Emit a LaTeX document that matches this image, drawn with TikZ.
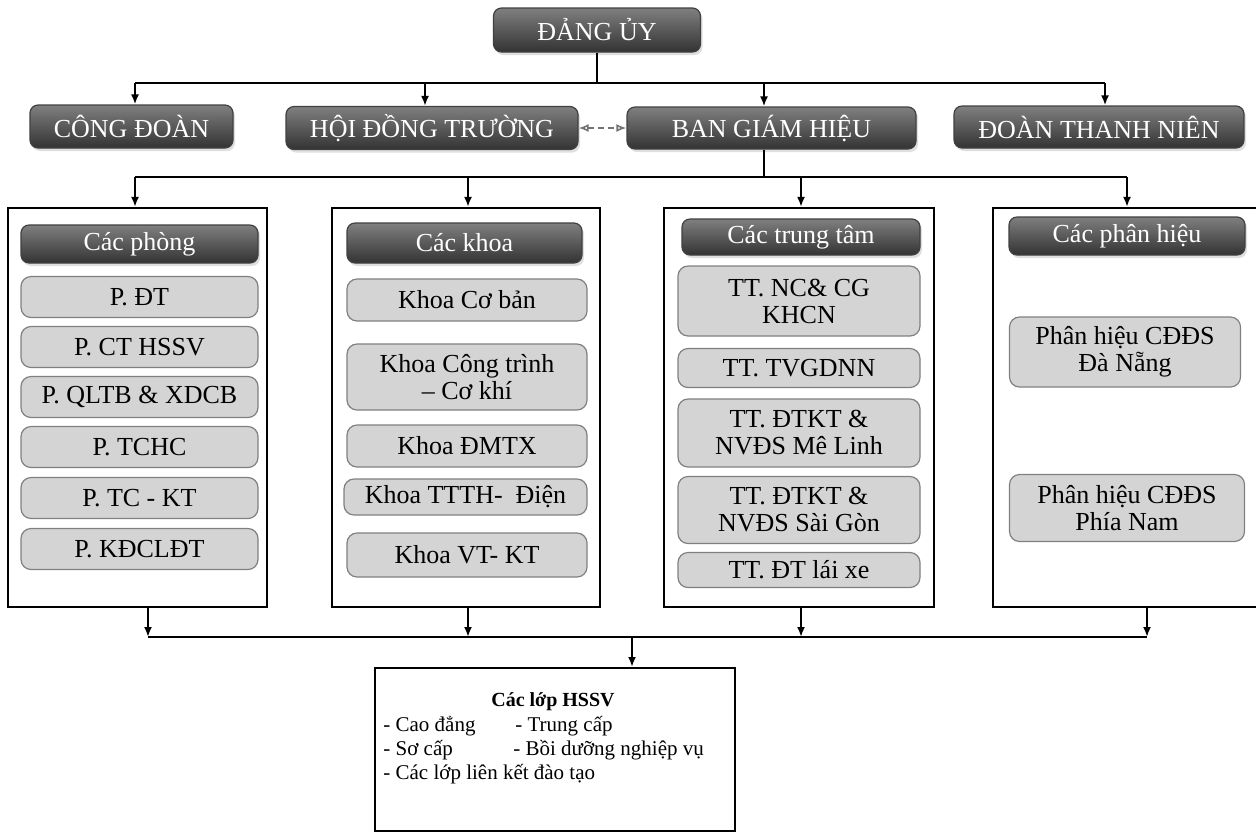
\documentclass[tikz,border=0pt]{standalone}
\usepackage{fontspec}
\setmainfont{Liberation Serif}
\usetikzlibrary{arrows.meta,shadows}
\newdimen\pxu \pxu=0.5pt
\begin{document}
\begin{tikzpicture}[x=0.5pt,y=-0.5pt,
  conn/.style={line width=1pt, draw=black},
  arr/.style={conn, -{Latex[length=5pt,width=4pt]}},
  darkbox/.style={rounded corners=4pt, top color=black!50, bottom color=black!80, draw=black!75, line width=0.6pt, text=white, font=\fontsize{13}{14}\selectfont, inner sep=0pt, drop shadow={opacity=0.25,shadow xshift=1pt,shadow yshift=-1.5pt}},
  itembox/.style={rounded corners=5pt, fill=black!17, draw=black!50, line width=0.6pt, font=\fontsize{13}{13.5}\selectfont, align=center, inner sep=0pt},
  panel/.style={draw=black, line width=1.1pt, fill=white, inner sep=0pt},
  listtext/.style={font=\fontsize{10.5}{12}\selectfont, inner sep=0pt, anchor=base west},
]
\useasboundingbox (0,0) rectangle (1256,832);

% top row
\node[darkbox, minimum width=207\pxu, minimum height=44\pxu] (dang) at (597,30) {ĐẢNG ỦY};
\node[darkbox, minimum width=203\pxu, minimum height=43\pxu] (cd) at (131.5,126.5) {CÔNG ĐOÀN};
\node[darkbox, minimum width=292\pxu, minimum height=43\pxu] (hdt) at (432,128) {HỘI ĐỒNG TRƯỜNG};
\node[darkbox, minimum width=289\pxu, minimum height=42\pxu] (bgh) at (771.5,128) {BAN GIÁM HIỆU};
\node[darkbox, minimum width=290\pxu, minimum height=42\pxu] (dtn) at (1099,127) {ĐOÀN THANH NIÊN};

\coordinate (j0) at (597,83);
\coordinate (ja) at (135,83);
\coordinate (jb) at (425,83);
\coordinate (jc) at (764,83);
\coordinate (jd) at (1105,83);
\draw[conn] (dang.south) -- (j0);
\draw[conn] (ja) -- (jd);
\draw[arr] (ja) -- (ja |- cd.north);
\draw[arr] (jb) -- (jb |- hdt.north);
\draw[arr] (jc) -- (jc |- bgh.north);
\draw[arr] (jd) -- (jd |- dtn.north);
\draw[draw=black!55, line width=0.8pt, densely dashed, {Latex[open,length=5pt,width=4pt]}-{Latex[open,length=5pt,width=4pt]}] (hdt.east) -- (bgh.west);

% panels
\node[panel, minimum width=259\pxu, minimum height=399\pxu] (p1) at (137.5,407.5) {};
\node[panel, minimum width=268\pxu, minimum height=399\pxu] (p2) at (466,407.5) {};
\node[panel, minimum width=270\pxu, minimum height=399\pxu] (p3) at (799,407.5) {};
\node[panel, minimum width=272\pxu, minimum height=399\pxu] (p4) at (1129,407.5) {};

\coordinate (k0) at (764,177);
\coordinate (ka) at (135,177);
\coordinate (kb) at (468,177);
\coordinate (kc) at (801,177);
\coordinate (kd) at (1127,177);
\draw[conn] (k0 |- bgh.south) -- (k0);
\draw[conn] (ka) -- (kd);
\draw[arr] (ka) -- (ka |- p1.north);
\draw[arr] (kb) -- (kb |- p2.north);
\draw[arr] (kc) -- (kc |- p3.north);
\draw[arr] (kd) -- (kd |- p4.north);

% panel 1
\node[darkbox, minimum width=237\pxu, minimum height=38\pxu] (t1) at (139.5,244) {Các phòng};
\node[itembox, minimum width=237\pxu, minimum height=41\pxu] (a1) at (139.5,297) {P. ĐT};
\node[itembox, minimum width=237\pxu, minimum height=41\pxu] (a2) at (139.5,347) {P. CT HSSV};
\node[itembox, minimum width=237\pxu, minimum height=41\pxu] (a3) at (139.5,397) {P. QLTB \& XDCB};
\node[itembox, minimum width=237\pxu, minimum height=41\pxu] (a4) at (139.5,447) {P. TCHC};
\node[itembox, minimum width=237\pxu, minimum height=41\pxu] (a5) at (139.5,498) {P. TC - KT};
\node[itembox, minimum width=237\pxu, minimum height=41\pxu] (a6) at (139.5,549) {P. KĐCLĐT};

% panel 2
\node[darkbox, minimum width=235\pxu, minimum height=40\pxu] (t2) at (464.5,243) {Các khoa};
\node[itembox, minimum width=240\pxu, minimum height=42\pxu] (b1) at (467,300) {Khoa Cơ bản};
\node[itembox, minimum width=240\pxu, minimum height=66\pxu] (b2) at (467,377) {Khoa Công trình\\– Cơ khí};
\node[itembox, minimum width=240\pxu, minimum height=42\pxu] (b3) at (467,446) {Khoa ĐMTX};
\node[itembox, minimum width=243\pxu, minimum height=36\pxu] (b4) at (465.5,497) {Khoa TTTH-\ \ Điện};
\node[itembox, minimum width=240\pxu, minimum height=44\pxu] (b5) at (467,555) {Khoa VT- KT};

% panel 3
\node[darkbox, minimum width=238\pxu, minimum height=36\pxu] (t3) at (801,237) {Các trung tâm};
\node[itembox, minimum width=242\pxu, minimum height=70\pxu] (c1) at (799,301) {TT. NC\& CG\\KHCN};
\node[itembox, minimum width=242\pxu, minimum height=39\pxu] (c2) at (799,368) {TT. TVGDNN};
\node[itembox, minimum width=242\pxu, minimum height=68\pxu] (c3) at (799,433) {TT. ĐTKT \&\\NVĐS Mê Linh};
\node[itembox, minimum width=242\pxu, minimum height=67\pxu] (c4) at (799,510) {TT. ĐTKT \&\\NVĐS Sài Gòn};
\node[itembox, minimum width=242\pxu, minimum height=35\pxu] (c5) at (799,570) {TT. ĐT lái xe};

% panel 4
\node[darkbox, minimum width=236\pxu, minimum height=38\pxu] (t4) at (1127,236) {Các phân hiệu};
\node[itembox, minimum width=231\pxu, minimum height=70\pxu] (d1) at (1125,352) {Phân hiệu CĐĐS\\Đà Nẵng};
\node[itembox, minimum width=235\pxu, minimum height=67\pxu] (d2) at (1127,508) {Phân hiệu CĐĐS\\Phía Nam};

% bottom connectors
\node[draw=black, line width=1pt, inner sep=0pt, minimum width=360\pxu, minimum height=163\pxu] (hssv) at (555,749.5) {};
\coordinate (m0) at (632,637);
\coordinate (ma) at (148,637);
\coordinate (mb) at (468,637);
\coordinate (mc) at (801,637);
\coordinate (md) at (1147,637);
\draw[arr] (ma |- p1.south) -- (ma);
\draw[arr] (mb |- p2.south) -- (mb);
\draw[arr] (mc |- p3.south) -- (mc);
\draw[arr] (md |- p4.south) -- (md);
\draw[conn] (ma) -- (md);
\draw[arr] (m0) -- (m0 |- hssv.north);

% bottom box text
\node[font=\fontsize{10}{12}\selectfont\bfseries, inner sep=0pt, anchor=base] (h0) at (553,706) {Các lớp HSSV};
\node[listtext] (h1) at (383,731) {- Cao đẳng};
\node[listtext] (h2) at (515,731) {- Trung cấp};
\node[listtext] (h3) at (383,755) {- Sơ cấp};
\node[listtext] (h4) at (513,755) {- Bồi dưỡng nghiệp vụ};
\node[listtext] (h5) at (383,779) {- Các lớp liên kết đào tạo};
\end{tikzpicture}
\end{document}
